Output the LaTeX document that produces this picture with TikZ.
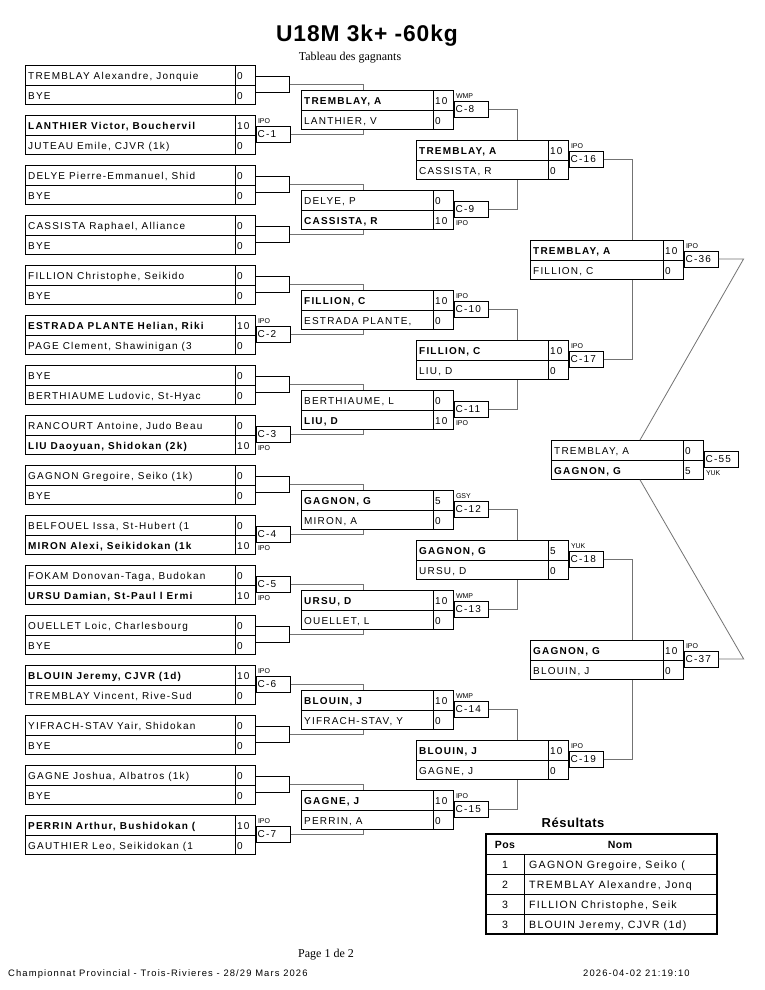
\documentclass[tikz,border=0pt]{standalone}
\usepackage{fontspec}
\setmainfont{Liberation Sans}
\newfontfamily\nf{Liberation Sans}[LetterSpace=12]
\newfontfamily\tf{Liberation Sans}[LetterSpace=4]
\newfontfamily\serf{Liberation Serif}
\usetikzlibrary{calc}
\tikzset{
  mbox/.style={draw, line width=0.8pt, rectangle, minimum height=39pt, inner sep=0pt, anchor=north west},
  nm/.style={inner sep=0pt, anchor=base west, font=\nf\fontsize{10}{12}\selectfont},
  tb/.style={inner sep=0pt, anchor=base west, font=\nf\fontsize{10.6}{12}\selectfont},
  cbx/.style={draw, line width=0.8pt, rectangle, minimum height=16pt, text width=31pt, inner xsep=1.5pt, inner ysep=0pt, align=left, font=\nf\fontsize{10}{12}\selectfont, anchor=west},
  lbl/.style={inner sep=0pt, font=\fontsize{7}{8}\selectfont},
  conn/.style={draw=black!55, line width=0.8pt},
  brk/.style={draw, line width=0.8pt},
}
\newcommand\Match[8]{%
  \node[mbox, minimum width=#4+20] (#1) at (#2,#3) {};
  \draw[line width=0.8pt] (#1.west) -- (#1.east);
  \draw[line width=0.8pt] ($(#1.north east)+(-20,0)$) -- ($(#1.south east)+(-20,0)$);
  \node[nm] (#1-a) at ($(#1.north west)+(3,14.5)$) {#5};
  \node[nm] (#1-as) at ($(#1.north east)+(-19,14.5)$) {#6};
  \node[nm] (#1-b) at ($(#1.north west)+(3,34)$) {#7};
  \node[nm] (#1-bs) at ($(#1.north east)+(-19,34)$) {#8};
}
\newcommand\CB[4]{%
  \node[cbx] (c#1) at ($(#1.east)+(0,-1)$) {#2};
  \coordinate (o#1) at (c#1.east);
  \ifx a#4
    \node[lbl, anchor=base west] (l#1) at ($(c#1.north west)+(2,-2)$) {#3};
  \else
    \node[lbl, anchor=north west] (l#1) at ($(c#1.south west)+(2,3.5)$) {#3};
  \fi
}
\newcommand\BR[1]{%
  \draw[brk] ($(#1.east)+(0,-9)$) -- ++(34,0) -- ++(0,16) -- ++(-34,0);
  \coordinate (o#1) at ($(#1.east)+(34,-1)$);
}
\newcommand\Up[3]{\draw[conn] (o#1) -| ($(#2.north west)+(#3,0)$);}
\newcommand\Dn[3]{\draw[conn] (o#1) -| ($(#2.south west)+(#3,0)$);}
\begin{document}
\begin{tikzpicture}[x=1pt,y=-1pt]
\fill[white] (0,0) rectangle (765,990);
\useasboundingbox (0,0) rectangle (765,990);

\node[font=\tf\bfseries\fontsize{22.8}{26}\selectfont, anchor=base, inner sep=0pt] (title) at (367,42) {U18M 3k+ -60kg};
\node[font=\serf\fontsize{12}{14}\selectfont, anchor=base, inner sep=0pt] (sub) at (350,60) {Tableau des gagnants};

% Round 1
\Match{p0}{25}{65}{210}{TREMBLAY Alexandre, Jonquie}{0}{BYE}{0} \BR{p0}
\Match{p1}{25}{115}{210}{\bfseries LANTHIER Victor, Bouchervil}{10}{JUTEAU Emile, CJVR (1k)}{0} \CB{p1}{C-1}{IPO}{a}
\Match{p2}{25}{165}{210}{DELYE Pierre-Emmanuel, Shid}{0}{BYE}{0} \BR{p2}
\Match{p3}{25}{215}{210}{CASSISTA Raphael, Alliance}{0}{BYE}{0} \BR{p3}
\Match{p4}{25}{265}{210}{FILLION Christophe, Seikido}{0}{BYE}{0} \BR{p4}
\Match{p5}{25}{315}{210}{\bfseries ESTRADA PLANTE Helian, Riki}{10}{PAGE Clement, Shawinigan (3}{0} \CB{p5}{C-2}{IPO}{a}
\Match{p6}{25}{365}{210}{BYE}{0}{BERTHIAUME Ludovic, St-Hyac}{0} \BR{p6}
\Match{p7}{25}{415}{210}{RANCOURT Antoine, Judo Beau}{0}{\bfseries LIU Daoyuan, Shidokan (2k)}{10} \CB{p7}{C-3}{IPO}{b}
\Match{p8}{25}{465}{210}{GAGNON Gregoire, Seiko (1k)}{0}{BYE}{0} \BR{p8}
\Match{p9}{25}{515}{210}{BELFOUEL Issa, St-Hubert (1}{0}{\bfseries MIRON Alexi, Seikidokan (1k}{10} \CB{p9}{C-4}{IPO}{b}
\Match{p10}{25}{565}{210}{FOKAM Donovan-Taga, Budokan}{0}{\bfseries URSU Damian, St-Paul l Ermi}{10} \CB{p10}{C-5}{IPO}{b}
\Match{p11}{25}{615}{210}{OUELLET Loic, Charlesbourg}{0}{BYE}{0} \BR{p11}
\Match{p12}{25}{665}{210}{\bfseries BLOUIN Jeremy, CJVR (1d)}{10}{TREMBLAY Vincent, Rive-Sud}{0} \CB{p12}{C-6}{IPO}{a}
\Match{p13}{25}{715}{210}{YIFRACH-STAV Yair, Shidokan}{0}{BYE}{0} \BR{p13}
\Match{p14}{25}{765}{210}{GAGNE Joshua, Albatros (1k)}{0}{BYE}{0} \BR{p14}
\Match{p15}{25}{815}{210}{\bfseries PERRIN Arthur, Bushidokan (}{10}{GAUTHIER Leo, Seikidokan (1}{0} \CB{p15}{C-7}{IPO}{a}

% Round 2
\Match{q0}{301}{90}{132}{\bfseries TREMBLAY, A}{10}{LANTHIER, V}{0} \CB{q0}{C-8}{WMP}{a}
\Match{q1}{301}{190}{132}{DELYE, P}{0}{\bfseries CASSISTA, R}{10} \CB{q1}{C-9}{IPO}{b}
\Match{q2}{301}{290}{132}{\bfseries FILLION, C}{10}{ESTRADA PLANTE,}{0} \CB{q2}{C-10}{IPO}{a}
\Match{q3}{301}{390}{132}{BERTHIAUME, L}{0}{\bfseries LIU, D}{10} \CB{q3}{C-11}{IPO}{b}
\Match{q4}{301}{490}{132}{\bfseries GAGNON, G}{5}{MIRON, A}{0} \CB{q4}{C-12}{GSY}{a}
\Match{q5}{301}{590}{132}{\bfseries URSU, D}{10}{OUELLET, L}{0} \CB{q5}{C-13}{WMP}{a}
\Match{q6}{301}{690}{132}{\bfseries BLOUIN, J}{10}{YIFRACH-STAV, Y}{0} \CB{q6}{C-14}{WMP}{a}
\Match{q7}{301}{790}{132}{\bfseries GAGNE, J}{10}{PERRIN, A}{0} \CB{q7}{C-15}{IPO}{a}

% Round 3
\Match{r0}{416}{140}{132}{\bfseries TREMBLAY, A}{10}{CASSISTA, R}{0} \CB{r0}{C-16}{IPO}{a}
\Match{r1}{416}{340}{132}{\bfseries FILLION, C}{10}{LIU, D}{0} \CB{r1}{C-17}{IPO}{a}
\Match{r2}{416}{540}{132}{\bfseries GAGNON, G}{5}{URSU, D}{0} \CB{r2}{C-18}{YUK}{a}
\Match{r3}{416}{740}{132}{\bfseries BLOUIN, J}{10}{GAGNE, J}{0} \CB{r3}{C-19}{IPO}{a}

% Round 4
\Match{s0}{530}{240}{133}{\bfseries TREMBLAY, A}{10}{FILLION, C}{0} \CB{s0}{C-36}{IPO}{a}
\Match{s1}{530}{640}{133}{\bfseries GAGNON, G}{10}{BLOUIN, J}{0} \CB{s1}{C-37}{IPO}{a}

% Final
\Match{f}{551}{440}{132}{TREMBLAY, A}{0}{\bfseries GAGNON, G}{5} \CB{f}{C-55}{YUK}{b}

% Connectors R1 -> R2
\Up{p0}{q0}{62} \Dn{p1}{q0}{62}
\Up{p2}{q1}{62} \Dn{p3}{q1}{62}
\Up{p4}{q2}{62} \Dn{p5}{q2}{62}
\Up{p6}{q3}{62} \Dn{p7}{q3}{62}
\Up{p8}{q4}{62} \Dn{p9}{q4}{62}
\Up{p10}{q5}{62} \Dn{p11}{q5}{62}
\Up{p12}{q6}{62} \Dn{p13}{q6}{62}
\Up{p14}{q7}{62} \Dn{p15}{q7}{62}
% R2 -> R3
\Up{q0}{r0}{101} \Dn{q1}{r0}{101}
\Up{q2}{r1}{101} \Dn{q3}{r1}{101}
\Up{q4}{r2}{101} \Dn{q5}{r2}{101}
\Up{q6}{r3}{101} \Dn{q7}{r3}{101}
% R3 -> R4
\Up{r0}{s0}{102} \Dn{r1}{s0}{102}
\Up{r2}{s1}{102} \Dn{r3}{s1}{102}
% R4 -> Final
\draw[conn] (os0) -- ++(25,0) -- ($(f.north west)+(89,0)$);
\draw[conn] (os1) -- ++(25,0) -- ($(f.south west)+(89,0)$);

% Results
\node[font=\tf\bfseries\fontsize{13}{15}\selectfont, anchor=base, inner sep=0pt] (res) at (573,827) {Résultats};
\draw[line width=1.4pt] (486,834) rectangle (717,934);
\foreach \yy in {854,874,894,914} \draw[line width=0.8pt] (486,\yy) -- (717,\yy);
\draw[line width=0.8pt] (524,854) -- (524,934);
\node[font=\tf\bfseries\fontsize{10.5}{12}\selectfont, anchor=base, inner sep=0pt] (hpos) at (505,848) {Pos};
\node[font=\tf\bfseries\fontsize{10.5}{12}\selectfont, anchor=base, inner sep=0pt] (hnom) at (620,848) {Nom};
\foreach \yy/\pp/\nn in {868/1/{GAGNON Gregoire, Seiko (},888/2/{TREMBLAY Alexandre, Jonq},908/3/{FILLION Christophe, Seik},928/3/{BLOUIN Jeremy, CJVR (1d)}}{
  \node[tb, anchor=base] at (505,\yy) {\pp};
  \node[tb] at (529,\yy) {\nn};
}

% Footer
\node[font=\serf\fontsize{12}{14}\selectfont, anchor=base west, inner sep=0pt] (page) at (298,957) {Page 1 de 2};
\node[font=\nf\fontsize{9.4}{11}\selectfont, anchor=base west, inner sep=0pt] (event) at (8,976) {Championnat Provincial - Trois-Rivieres - 28/29 Mars 2026};
\node[font=\nf\fontsize{9.4}{11}\selectfont, anchor=base west, inner sep=0pt] (stamp) at (583,976) {2026-04-02 21:19:10};
\end{tikzpicture}
\end{document}
